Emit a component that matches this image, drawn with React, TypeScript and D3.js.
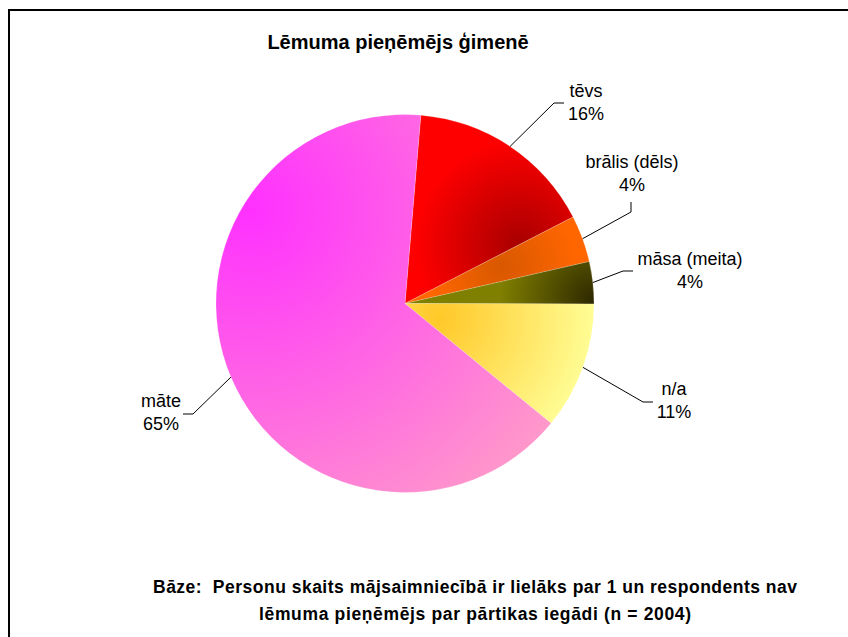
import React from "react";
import * as d3 from "d3";

// ---- data ----
const categories = ["tēvs", "brālis (dēls)", "māsa (meita)", "n/a", "māte"];
const shares = [16.1, 4.0, 3.6, 10.9, 65.4];
const titleText = "Lēmuma pieņēmējs ģimenē";
const noteLines = [
  "Bāze:  Personu skaits mājsaimniecībā ir lielāks par 1 un respondents nav",
  "lēmuma pieņēmējs par pārtikas iegādi (n = 2004)",
];

// ---- styles (separate from data) ----
const W = 848;
const H = 637;
const cx = 405;
const cy = 303.5;
const R = 189;
const startDeg = 4.8;

// gradient spec per slice: focal colour, outer colour, focal point as (angle frac within slice, radius frac), gradient radius
const grads = [
  { inner: "#A80000", outer: "#FF0000", af: 1.0, rf: 0.68, gr: 105, mid: 0.0 },
  { inner: "#D85800", outer: "#FF6600", af: 0.45, rf: 0.55, gr: 75, mid: 0.0 },
  { inner: "#2E2800", outer: "#808000", af: 0.9, rf: 1.0, gr: 95, mid: 0.0 },
  { inner: "#FFC828", outer: "#FFFF99", af: 0.6, rf: 0.2, gr: 160, mid: 0.0 },
  { inner: "#FF30FF", outer: "#FF9CC8", af: 0.73, rf: 0.95, gr: 380, mid: 0.0 },
];
const noteWidths = [644, 432];

// label layout: text centre x, first baseline y, leader elbow and end points
const labelLayout = [
  { tx: 586, ty: 97, elbow: [554, 103], end: [564, 103] },
  { tx: 632, ty: 168, elbow: [631, 212], end: [631, 202] },
  { tx: 690, ty: 265, elbow: [623, 271], end: [633, 271] },
  { tx: 674, ty: 395, elbow: [643, 402], end: [653, 402] },
  { tx: 161, ty: 407, elbow: [193, 414], end: [183, 414] },
];

export default function App() {
  const total = d3.sum(shares);
  const pie = d3
    .pie<number>()
    .sort(null)
    .value((d) => d)
    .startAngle((startDeg * Math.PI) / 180)
    .endAngle((startDeg * Math.PI) / 180 + 2 * Math.PI);
  const arcs = pie(shares);
  const arc = d3.arc<d3.PieArcDatum<number>>().innerRadius(0).outerRadius(R);

  const polar = (a: number, r: number) => [r * Math.sin(a), -r * Math.cos(a)];

  const font = "'Liberation Sans', Arial, sans-serif";

  return (
    <svg
      width={W}
      height={H}
      viewBox={`0 0 ${W} ${H}`}
      style={{ position: "absolute", left: 0, top: 0, background: "#fff" }}
    >
      <defs>
        {arcs.map((a, i) => {
          const g = grads[i];
          const ang = a.startAngle + (a.endAngle - a.startAngle) * g.af;
          const [fx, fy] = polar(ang, R * g.rf);
          return (
            <radialGradient
              key={i}
              id={`g${i}`}
              gradientUnits="userSpaceOnUse"
              cx={fx}
              cy={fy}
              r={g.gr}
            >
              <stop offset="0%" stopColor={g.inner} />
              <stop offset="100%" stopColor={g.outer} />
            </radialGradient>
          );
        })}
      </defs>
      <rect x={0} y={0} width={W} height={H} fill="#fff" />
      <path d={`M9,${H} V10 H${W}`} fill="none" stroke="#000" strokeWidth={2} />

      <text
        x={398}
        y={49}
        textAnchor="middle"
        fontFamily={font}
        fontWeight="bold"
        fontSize={20}
        fill="#000"
      >
        {titleText}
      </text>

      <g transform={`translate(${cx},${cy})`}>
        {arcs.map((a, i) => (
          <path key={i} d={arc(a) || ""} fill={`url(#g${i})`} stroke="#fff" strokeOpacity={0.3} strokeWidth={0.6} />
        ))}
      </g>

      {arcs.map((a, i) => {
        const mid = (a.startAngle + a.endAngle) / 2;
        const [mx, my] = polar(mid, R);
        const L = labelLayout[i];
        const pct = Math.round((shares[i] / total) * 100);
        return (
          <g key={i}>
            <polyline
              points={`${cx + mx},${cy + my} ${L.elbow[0]},${L.elbow[1]} ${L.end[0]},${L.end[1]}`}
              fill="none"
              stroke="#000"
              strokeWidth={1}
            />
            <text
              x={L.tx}
              y={L.ty}
              textAnchor="middle"
              fontFamily={font}
              fontSize={18}
              fill="#000"
            >
              {categories[i]}
            </text>
            <text
              x={L.tx}
              y={L.ty + 23}
              textAnchor="middle"
              fontFamily={font}
              fontSize={18}
              fill="#000"
            >
              {`${pct}%`}
            </text>
          </g>
        );
      })}

      {noteLines.map((t, i) => (
        <text
          key={i}
          x={475}
          y={593 + i * 27}
          textAnchor="middle"
          fontFamily={font}
          fontWeight="bold"
          fontSize={17.5}
          textLength={noteWidths[i]}
          lengthAdjust="spacing"
          style={{ whiteSpace: "pre" }}
          fill="#000"
        >
          {t}
        </text>
      ))}
    </svg>
  );
}
